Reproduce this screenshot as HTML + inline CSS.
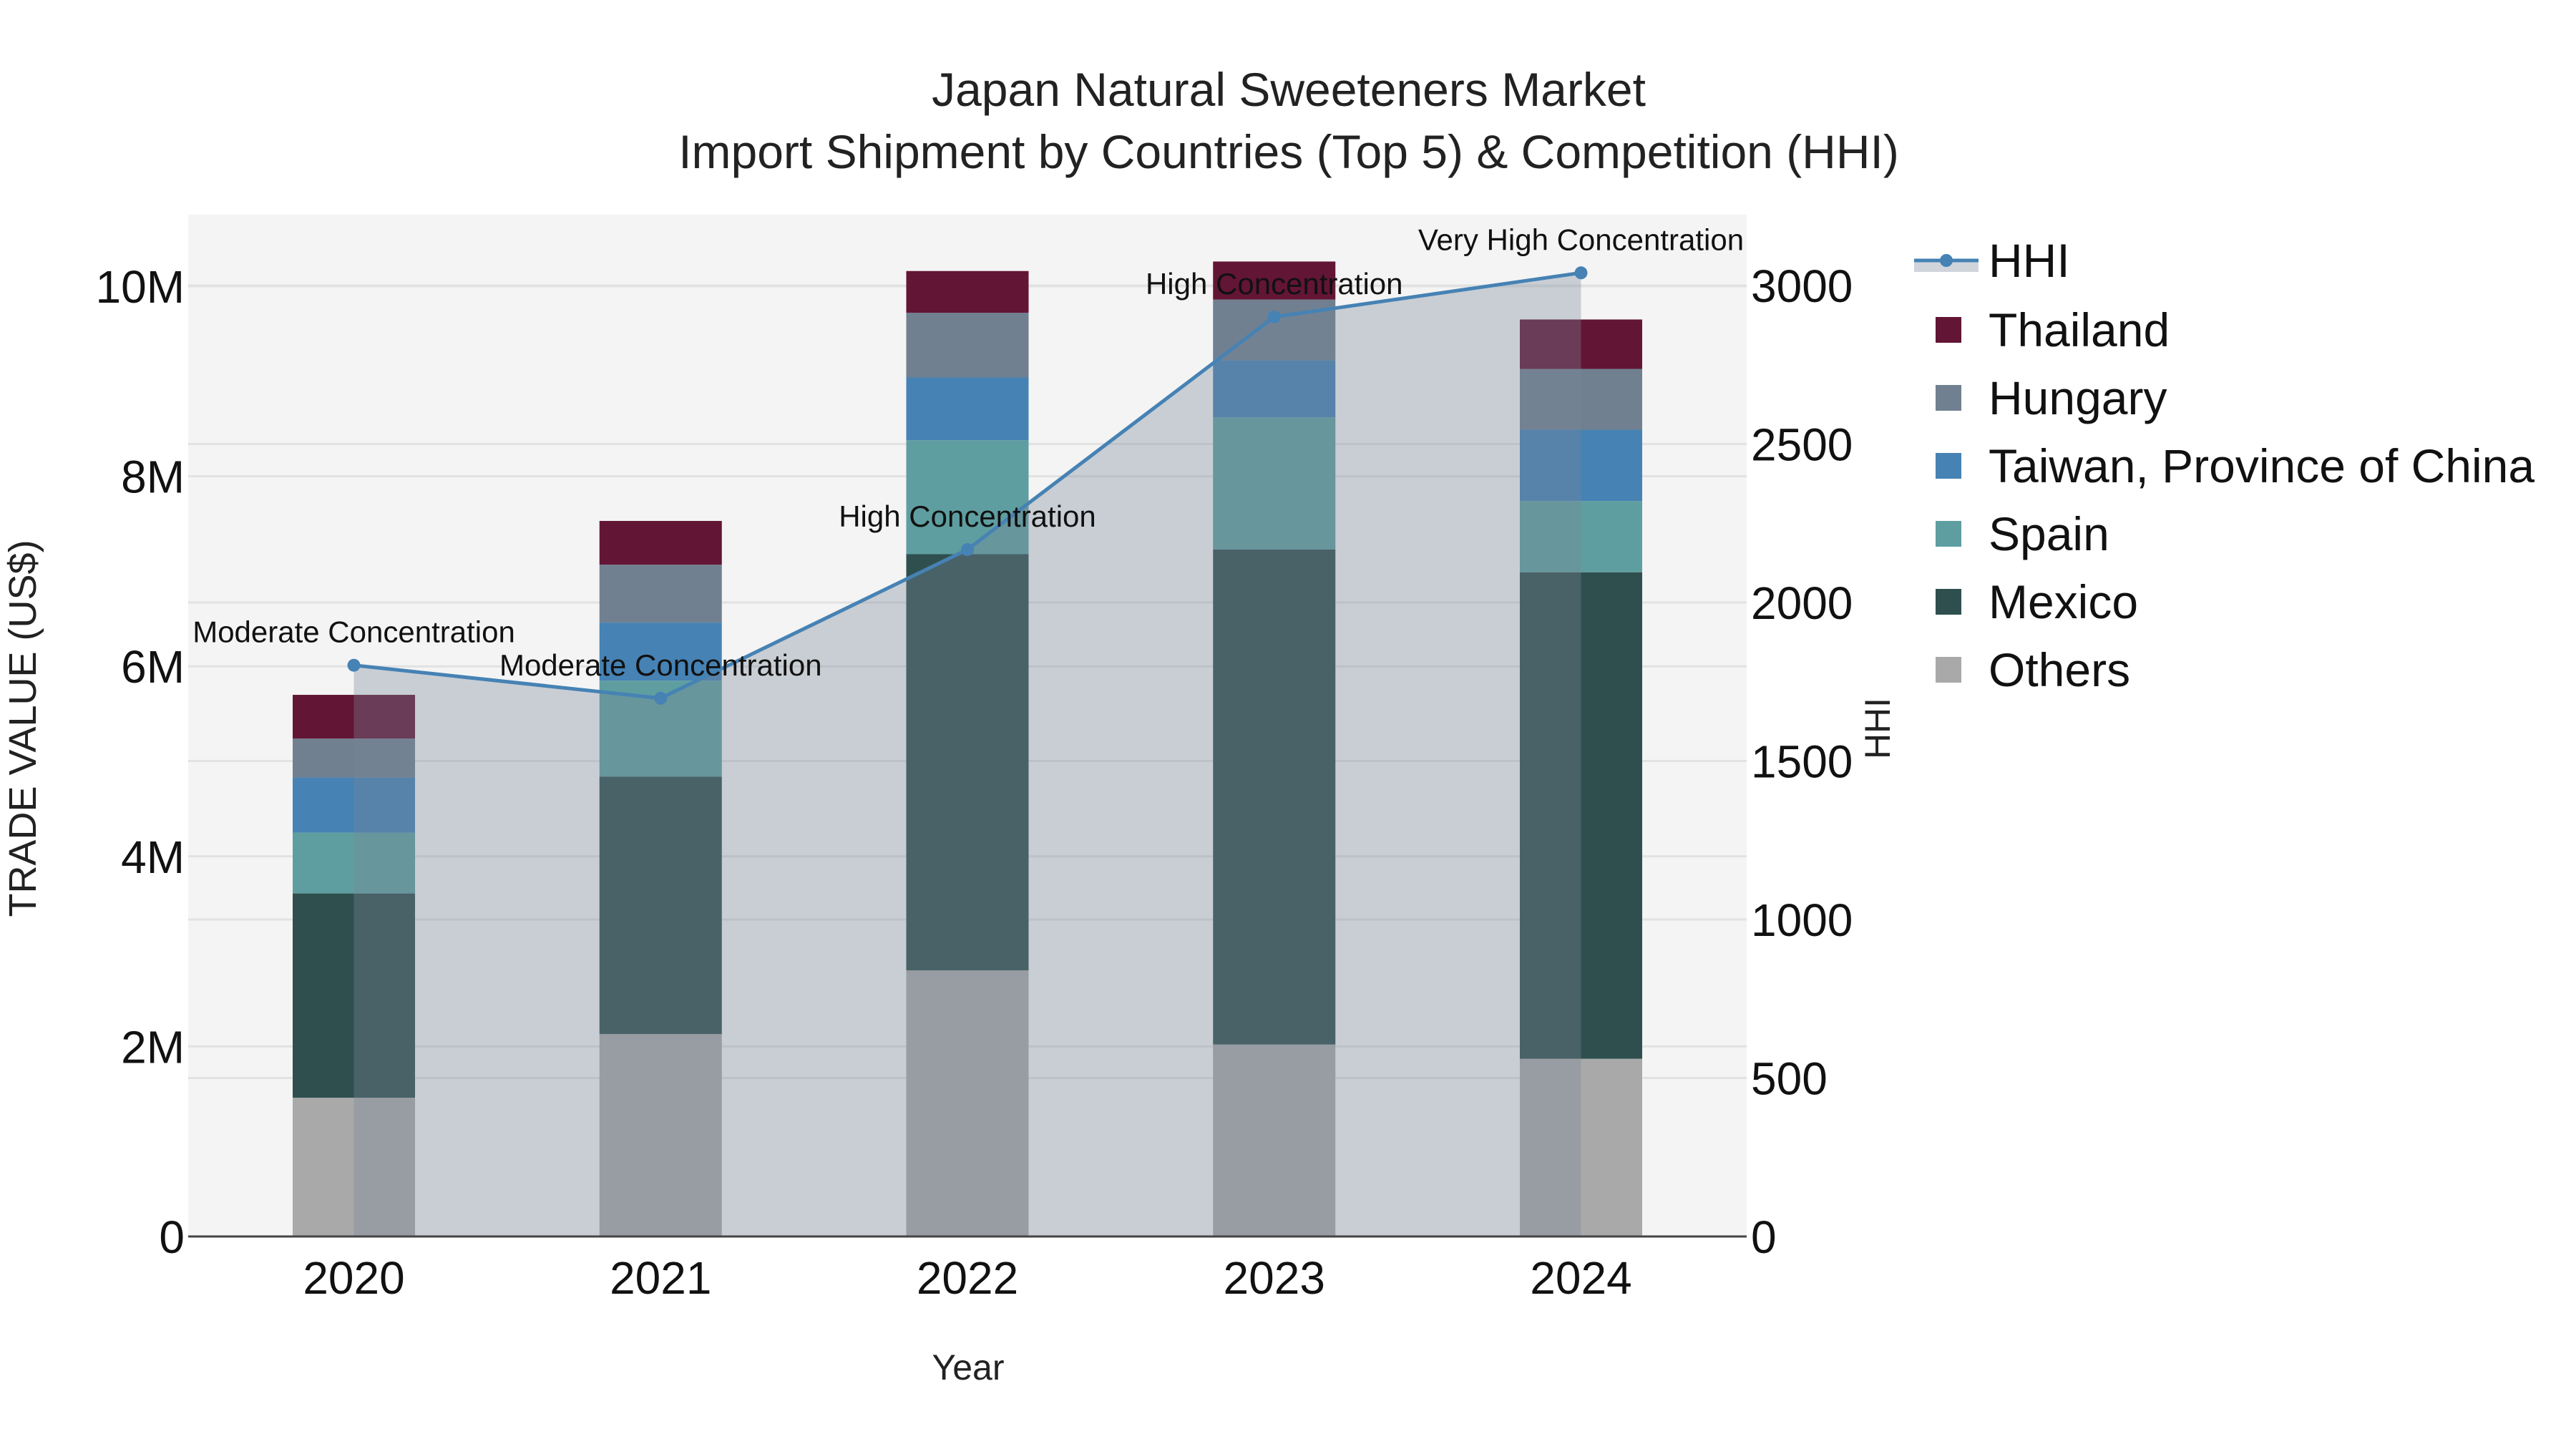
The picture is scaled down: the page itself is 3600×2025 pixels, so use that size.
<!DOCTYPE html>
<html><head><meta charset="utf-8">
<style>
html,body{margin:0;padding:0;background:#fff;}
svg{display:block;font-family:"Liberation Sans",Arial,sans-serif;}
</style></head>
<body>
<svg id="chart" width="3600" height="2025" viewBox="0 0 3600 2025" xmlns="http://www.w3.org/2000/svg">
  <rect x="0" y="0" width="3600" height="2025" fill="#ffffff"/>
  <text x="1801" y="148" text-anchor="middle" font-size="66" fill="#222">Japan Natural Sweeteners Market</text>
  <text x="1801" y="235" text-anchor="middle" font-size="66" fill="#222">Import Shipment by Countries (Top 5) &amp; Competition (HHI)</text>
  <rect x="263" y="300" width="2178" height="1428" fill="#f4f4f4"/>
  <g id="grid"></g>
  <g id="bars"></g>
  <g id="hhi"></g>
  <g id="axes"></g>
  <text transform="translate(50,1018) rotate(-90)" text-anchor="middle" font-size="54" fill="#222">TRADE VALUE (US$)</text>
  <text transform="translate(2641,1018) rotate(-90)" text-anchor="middle" font-size="50" fill="#222">HHI</text>
  <text x="1353" y="1928" text-anchor="middle" font-size="50" fill="#222">Year</text>
  <g id="legend"></g>
</svg>
<script>
const years = ["2020","2021","2022","2023","2024"];
const others   = [1.46, 2.13, 2.80, 2.02, 1.87];
const mexico   = [2.15, 2.71, 4.38, 5.21, 5.12];
const spain    = [0.64, 1.01, 1.20, 1.39, 0.75];
const taiwan   = [0.58, 0.61, 0.66, 0.60, 0.75];
const hungary  = [0.41, 0.61, 0.68, 0.64, 0.64];
const thailand = [0.46, 0.46, 0.44, 0.40, 0.52];
const hhiValues = [1802, 1698, 2167, 2901, 3040];
const hhiLabels = ["Moderate Concentration","Moderate Concentration","High Concentration","High Concentration","Very High Concentration"];
const leftTicks = [0, 2, 4, 6, 8, 10];
const leftTickLabels = ["0","2M","4M","6M","8M","10M"];
const rightTicks = [0, 500, 1000, 1500, 2000, 2500, 3000];

const NS = "http://www.w3.org/2000/svg";
const PL = 263, PR = 2441, PT = 300, PB = 1728;
const yL = v => PB - v * 132.8;
const yR = v => PB - v * (1329 / 3000);
const xC = i => PL + (i + 0.54) * ((PR - PL) / 5.08);
const BW = 171;
const LX = -21;

function mk(tag, attrs, parent) {
  const e = document.createElementNS(NS, tag);
  for (const k in attrs) e.setAttribute(k, attrs[k]);
  parent.appendChild(e);
  return e;
}
const grid = document.getElementById('grid');
leftTicks.forEach(t => {
  const l = mk('line', {x1: PL, x2: PR, y1: yL(t), y2: yL(t), stroke: '#e2e2e2', 'stroke-width': 3}, grid);
  
  
});
rightTicks.forEach(t => {
  const l = mk('line', {x1: PL, x2: PR, y1: yR(t), y2: yR(t), stroke: '#e2e2e2', 'stroke-width': 3}, grid);
  
  
});

const series = [
  {name: 'Others', vals: others, color: '#a9a9a9'},
  {name: 'Mexico', vals: mexico, color: '#2f4f4f'},
  {name: 'Spain', vals: spain, color: '#5f9ea0'},
  {name: 'Taiwan, Province of China', vals: taiwan, color: '#4682b4'},
  {name: 'Hungary', vals: hungary, color: '#708090'},
  {name: 'Thailand', vals: thailand, color: '#631535'}
];
const bars = document.getElementById('bars');
years.forEach((yr, i) => {
  let base = 0;
  series.forEach(s => {
    const v = s.vals[i];
    const r = mk('rect', {x: xC(i) - BW / 2, y: yL(base + v), width: BW, height: yL(base) - yL(base + v), fill: s.color}, bars);
    
    
    base += v;
  });
});

const hhi = document.getElementById('hhi');
let pts = hhiValues.map((v, i) => xC(i) + ',' + yR(v)).join(' ');
const area = mk('polygon', {points: xC(0) + ',' + PB + ' ' + pts + ' ' + xC(4) + ',' + PB, fill: 'rgba(119,136,153,0.35)'}, hhi);


const line = mk('polyline', {points: pts, fill: 'none', stroke: '#4682b4', 'stroke-width': 5}, hhi);


hhiValues.forEach((v, i) => {
  const c = mk('circle', {cx: xC(i), cy: yR(v), r: 9, fill: '#4682b4'}, hhi);
  
  
  const t = mk('text', {x: xC(i), y: yR(v) - 32, 'text-anchor': 'middle', 'font-size': 42, fill: '#111'}, hhi);
  t.textContent = hhiLabels[i];
  
  
});

const axes = document.getElementById('axes');
const zl = mk('line', {x1: PL, x2: PR, y1: PB, y2: PB, stroke: '#444', 'stroke-width': 3}, axes);


leftTicks.forEach((t, k) => {
  const e = mk('text', {x: 258, y: yL(t) + 23, 'text-anchor': 'end', 'font-size': 64, fill: '#111'}, axes);
  e.textContent = leftTickLabels[k];
  
  
});
rightTicks.forEach(t => {
  const e = mk('text', {x: 2447, y: yR(t) + 23, 'text-anchor': 'start', 'font-size': 64, fill: '#111'}, axes);
  e.textContent = String(t);
  
  
});
years.forEach((yr, i) => {
  const e = mk('text', {x: xC(i), y: 1808, 'text-anchor': 'middle', 'font-size': 64, fill: '#111'}, axes);
  e.textContent = yr;
  
  
});

const legend = document.getElementById('legend');
const hl = mk('rect', {x: 2696 + LX, y: 364, width: 90, height: 16, fill: 'rgba(119,136,153,0.35)'}, legend);


const hln = mk('line', {x1: 2696 + LX, x2: 2786 + LX, y1: 364, y2: 364, stroke: '#4682b4', 'stroke-width': 5}, legend);


const hc = mk('circle', {cx: 2741 + LX, cy: 364, r: 9, fill: '#4682b4'}, legend);


const ht = mk('text', {x: 2800 + LX, y: 387, 'font-size': 66, fill: '#111'}, legend);
ht.textContent = 'HHI';


const legOrder = series.slice().reverse();
legOrder.forEach((s, k) => {
  const cy = 461 + k * 95;
  const r = mk('rect', {x: 2726 + LX, y: cy - 18, width: 36, height: 36, fill: s.color}, legend);
  
  
  const t = mk('text', {x: 2800 + LX, y: cy + 23, 'font-size': 66, fill: '#111'}, legend);
  t.textContent = s.name;
  
  
});
</script>
</body></html>
